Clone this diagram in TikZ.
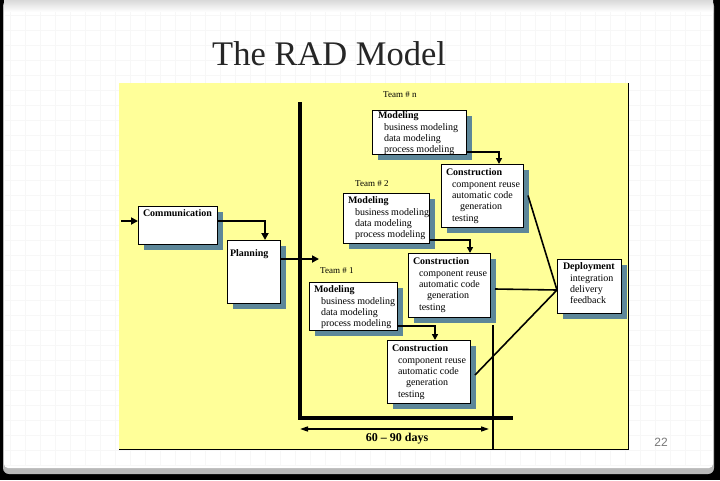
\documentclass[tikz,border=0pt]{standalone}
\usepackage{fontspec}
\setmainfont{Liberation Serif}
\newfontfamily\pagenumfont{Liberation Sans}
\usetikzlibrary{shadows,arrows.meta,calc}
\definecolor{slideyellow}{RGB}{255,255,153}
\definecolor{shadowblue}{RGB}{93,135,153}
\definecolor{pagegray}{RGB}{120,120,120}
\newcommand\bxtext[4]{\parbox[t][#2pt][t]{#1pt}{\fontsize{10}{11.3}\selectfont\raggedright\vspace*{#3pt}#4}}
\begin{document}
\begin{tikzpicture}[x=1pt,y=-1pt,
  box/.style={draw=black, line width=0.7pt, fill=white, anchor=north west,
    inner sep=0pt, outer sep=0pt,
    drop shadow={shadow xshift=6pt, shadow yshift=-6pt, fill=shadowblue, opacity=1}},
  thickarrow/.style={line width=2.6pt, -{Triangle[length=7pt,width=7pt]}},
  teamarrow/.style={line width=2pt, -{Triangle[length=6pt,width=6pt]}},
  mergeline/.style={line width=1.6pt},
  teamlabel/.style={anchor=west, inner sep=0pt, font=\fontsize{9}{10}\selectfont}]
\useasboundingbox (0,0) rectangle (720,480);
% slide frame
\fill[black] (0,0) rectangle (720,480);
\fill[gray!55, rounded corners=6pt] (3,0) rectangle (714,474);
\fill[white, rounded corners=4pt] (4,2) rectangle (713,468);
\shade[top color=gray!30, bottom color=white] (4,0) rectangle (713,12);
\foreach \gx in {10,25,...,710} \draw[gray!6, line width=0.4pt] (\gx,12) -- (\gx,466);
\foreach \gy in {15,30,...,465} \draw[gray!6, line width=0.4pt] (5,\gy) -- (712,\gy);
% title
\node[anchor=base west, inner sep=0pt, font=\fontsize{34.5}{36}\selectfont, text=black!85] (title) at (212,65) {The RAD Model};
% yellow panel
\fill[slideyellow] (119,83) rectangle (628,449);
\draw[line width=1pt] (628,83) -- (628,449) -- (119,449);
% page number
\node[font=\pagenumfont\fontsize{12}{12}\selectfont, text=pagegray] (pnum) at (661,442) {22};
% thick L axis
\coordinate (axtop) at (300,102);
\coordinate (axcorner) at (300,418);
\coordinate (axend) at (513,418);
\draw[line width=4.5pt] (axtop) -- (axcorner) -- (axend);
% thin vertical line
\coordinate (vtop) at (493,325);
\coordinate (vbot) at (493,449);
\draw[line width=1.5pt] (vtop) -- (vbot);
% dimension
\coordinate (dimL) at (300,429);
\coordinate (dimR) at (489,429);
\draw[line width=1.5pt, {Triangle[length=8pt,width=5pt]}-{Triangle[length=8pt,width=5pt]}] (dimL) -- (dimR);
\node[font=\bfseries\fontsize{12}{12}\selectfont, inner sep=0pt] (days) at (397,439) {60 -- 90 days};
% boxes
\node[box] (comm) at (138,206) {\bxtext{79}{38}{4}{\hspace*{5pt}\textbf{Communication}}};
\node[box] (plan) at (227,240) {\bxtext{53}{63}{10}{\hspace*{3pt}\textbf{Planning}}};
\node[box] (modn) at (372,110) {\bxtext{94}{44}{2}{\hspace*{6pt}\textbf{Modeling}\\\hspace*{12pt}business modeling\\\hspace*{12pt}data modeling\\\hspace*{12pt}process modeling}};
\node[box] (conn) at (441,164) {\bxtext{82}{63}{5}{\hspace*{5pt}\textbf{Construction}\\\hspace*{11pt}component reuse\\\hspace*{11pt}automatic code\\\hspace*{19pt}generation\\\hspace*{11pt}testing}};
\node[box] (mod2) at (343,193) {\bxtext{86}{50}{4}{\hspace*{5pt}\textbf{Modeling}\\\hspace*{12pt}business modeling\\\hspace*{12pt}data modeling\\\hspace*{12pt}process modeling}};
\node[box] (con2) at (408,253) {\bxtext{82}{64}{5}{\hspace*{5pt}\textbf{Construction}\\\hspace*{11pt}component reuse\\\hspace*{11pt}automatic code\\\hspace*{19pt}generation\\\hspace*{11pt}testing}};
\node[box] (mod1) at (309,282) {\bxtext{88}{48}{4}{\hspace*{5pt}\textbf{Modeling}\\\hspace*{12pt}business modeling\\\hspace*{12pt}data modeling\\\hspace*{12pt}process modeling}};
\node[box] (con1) at (387,340) {\bxtext{83}{63}{5}{\hspace*{5pt}\textbf{Construction}\\\hspace*{11pt}component reuse\\\hspace*{11pt}automatic code\\\hspace*{19pt}generation\\\hspace*{11pt}testing}};
\node[box] (dep) at (557,259) {\bxtext{64}{54}{4}{\hspace*{6pt}\textbf{Deployment}\\\hspace*{13pt}integration\\\hspace*{13pt}delivery\\\hspace*{13pt}feedback}};
% team labels
\node[teamlabel] (teamn) at (383,95) {Team \# n};
\node[teamlabel] (team2) at (355,184) {Team \# 2};
\node[teamlabel] (team1) at (320,271) {Team \# 1};
% connectors
\coordinate (commin) at (121,221);
\draw[thickarrow] (commin) -- ([yshift=4pt]comm.west);
\draw[thickarrow] ([yshift=4pt]comm.east) -| ([xshift=38pt]plan.north west);
\coordinate (planout) at (319,259);
\draw[thickarrow] ([yshift=12.5pt]plan.east) -- (planout);
\draw[teamarrow] ([yshift=2pt]modn.south east) -| ([xshift=58pt]conn.north west);
\draw[teamarrow] ([yshift=3pt]mod2.south east) -| ([xshift=62pt]con2.north west);
\draw[teamarrow] ([yshift=4pt]mod1.south east) -| ([xshift=48pt]con1.north west);
\draw[mergeline] ([xshift=5pt]conn.east) -- ([yshift=-4pt]dep.west);
\draw[mergeline] ([xshift=5pt,yshift=-4pt]con2.east) -- ([yshift=-4pt]dep.west);
\draw[mergeline] ([xshift=5pt,yshift=-3.5pt]con1.east) -- ([yshift=-4pt]dep.west);
\end{tikzpicture}
\end{document}
